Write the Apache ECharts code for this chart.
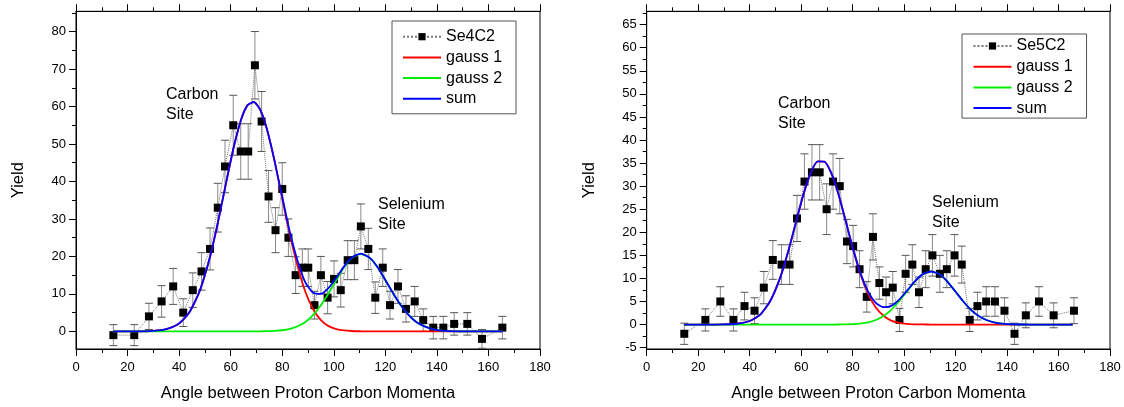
<!DOCTYPE html>
<html><head><meta charset="utf-8">
<script src="https://cdn.jsdelivr.net/npm/echarts@6/dist/echarts.min.js"></script>
<style>html,body{margin:0;padding:0;background:#fff}#c{width:1124px;height:407px}</style>
</head><body><div id="c"></div>
<script>
// ---------- data ----------
const leftX = [14.5,22.6,28.3,33.2,37.7,41.6,45.3,48.7,52,55,57.8,61,63.9,66.8,69.4,72,74.7,77.4,80,82.4,85.2,87.8,90.1,92.5,95,97.6,100.1,102.7,105.4,108,110.5,113.4,116.1,119,121.8,124.9,128,131.4,134.7,138.6,142.5,146.7,151.8,157.5,165.4];
const leftY = [-1,-1,4,8,12,5,11,16,22,33,44,55,48,48,71,56,36,27,38,25,15,17,17,7,15,9,14,11,19,19,28,22,9,17,7,12,6,8,3,1,1,2,2,-2,1];
const leftErr = [2.8,2.8,3.5,4.2,4.8,3.7,4.6,5,5.6,6.5,7,8,7.4,7.4,9,8,6.9,6,7,5,4.9,5,5,3.7,5,4.3,4.8,4.5,5.2,5.2,6,5.5,4.2,5,3.7,4.5,3.5,4,3,3,3,3,3,2.5,3];

const rightX = [14.6,22.8,28.6,33.7,38,41.9,45.5,49,52.4,55.5,58.4,61.3,64.2,67.2,69.9,72.4,75,77.8,80.2,82.7,85.5,87.9,90.4,93,95.6,98.2,100.6,103.2,105.8,108.4,111,113.9,116.6,119.6,122.4,125.5,128.5,131.9,135.3,139,142.9,147.3,152.4,158.1,166];
const rightY = [-2,1,5,1,4,3,8,14,13,13,23,31,33,33,25,31,30,18,17,12,6,19,9,7,8,1,11,13,7,12,15,11,12,15,13,1,4,5,5,3,-2,2,5,2,3];
const rightErr = [2.3,2.4,3.2,2.4,3,2.8,3.5,4.2,4.3,4.3,5,6,6,6,5.5,6,6,4.8,4.5,4,3.3,5,3.5,3.3,3.5,2.5,4,4.3,3.3,4,4.5,4,4,4.5,4,2.5,3,3.2,3.2,2.8,2.3,2.7,3.2,2.7,2.8];

const fitX = [14.5,20,25,30,35,40,44,48,52,55,58,61,64,66.5,69,71.5,74,77,80,83,86,89,92,95,98,101,104,107,110.5,114,117,120,123,126,129,132,135,138,142,148,155,165.5];
const leftG1 = [0,0,0.01,0.13,0.6,2.1,5.1,10.8,19.9,28.9,38.9,48.6,56.4,60.3,61.2,59.1,54.1,45.5,35.5,25.7,17.3,10.5,5.9,3.0,1.4,0.6,0.25,0.1,0.03,0,0,0,0,0,0,0,0,0,0,0,0,0];
const leftG2 = [0,0,0,0,0,0,0,0,0,0,0,0,0,0,0,0.02,0.05,0.13,0.3,0.67,1.37,2.5,4.4,7.0,10.2,13.7,17.1,19.6,20.7,19.6,17.1,13.7,10.2,7.0,4.4,2.5,1.4,0.7,0.2,0.02,0,0];
const leftSum = [0,0,0.01,0.13,0.6,2.1,5.1,10.8,19.9,28.9,38.9,48.6,56.4,60.3,61.2,59.1,54.15,45.6,35.8,26.4,18.7,13.0,10.3,10.0,11.6,14.3,17.35,19.7,20.73,19.6,17.1,13.7,10.2,7.0,4.4,2.5,1.4,0.7,0.2,0.02,0,0];
const rightG1 = [0,0,0,0.03,0.17,0.77,2.1,5.1,10.4,15.9,22.2,28.4,33.2,35.35,35.3,33.1,29.2,23.1,16.7,11.0,6.7,3.7,1.9,0.85,0.36,0.14,0.05,0.02,0,0,0,0,0,0,0,0,0,0,0,0,0,0];
const rightG2 = [0,0,0,0,0,0,0,0,0,0,0,0,0,0,0,0,0.01,0.03,0.08,0.21,0.47,0.98,1.86,3.2,5.0,7.1,9.2,10.8,11.5,10.8,9.2,7.1,5.0,3.2,1.86,0.98,0.47,0.21,0.06,0.01,0,0];
const rightSum = [0,0,0,0.03,0.17,0.77,2.1,5.1,10.4,15.9,22.2,28.4,33.2,35.35,35.3,33.1,29.21,23.13,16.78,11.21,7.17,4.68,3.76,4.05,5.36,7.24,9.25,10.82,11.5,10.8,9.2,7.1,5.0,3.2,1.86,0.98,0.47,0.21,0.06,0.01,0,0];

const leftYLabels = [0,10,20,30,40,50,60,70,80];
const leftYMinor = [5,15,25,35,45,55,65,75,85];
const rightYLabels = [-5,0,5,10,15,20,25,30,35,40,45,50,55,60,65];
const rightYMinor = [-2.5,2.5,7.5,12.5,17.5,22.5,27.5,32.5,37.5,42.5,47.5,52.5,57.5,62.5,67.5];
const leftNames = ['Se4C2','gauss 1','gauss 2','sum'];
const rightNames = ['Se5C2','gauss 1','gauss 2','sum'];

// ---------- helpers ----------
const FONT = "'Liberation Sans', Arial, sans-serif";
const zip = (a, b) => a.map((v, i) => [v, b[i]]);
const zip3 = (a, b, c) => a.map((v, i) => [v, b[i], c[i]]);

function xAxes(gi) {
  const base = {
    gridIndex: gi, type: 'value', min: 0, max: 180, interval: 20,
    axisLine: { show: true, onZero: false, lineStyle: { color: '#000', width: 1 } },
    axisTick: { show: true, inside: false, length: 7, lineStyle: { color: '#000' } },
    minorTick: { show: true, splitNumber: 2, length: 4, lineStyle: { color: '#000' } },
    splitLine: { show: false }, minorSplitLine: { show: false }
  };
  return [
    Object.assign({}, base, {
      position: 'bottom',
      axisLabel: { show: true, margin: 12, color: '#000', fontSize: 13, fontFamily: FONT },
      name: 'Angle between Proton Carbon Momenta', nameLocation: 'middle', nameGap: 36,
      nameTextStyle: { color: '#000', fontSize: 16.5, fontFamily: FONT }
    }),
    Object.assign({}, base, { position: 'top', axisLabel: { show: false } })
  ];
}
function yAxes(gi, min, max, labels, minor) {
  return [
    {
      gridIndex: gi, type: 'value', min: min, max: max, position: 'left',
      axisLine: { show: true, onZero: false, lineStyle: { color: '#000', width: 1 } },
      axisTick: { show: true, inside: false, length: 7, customValues: labels, lineStyle: { color: '#000' } },
      axisLabel: { show: true, margin: 10, color: '#000', fontSize: 13, fontFamily: FONT, customValues: labels },
      splitLine: { show: false },
      name: 'Yield', nameLocation: 'middle', nameGap: 49,
      nameTextStyle: { color: '#000', fontSize: 16.5, fontFamily: FONT }
    },
    {
      gridIndex: gi, type: 'value', min: min, max: max, position: 'left',
      axisLine: { show: false },
      axisTick: { show: true, inside: false, length: 4, customValues: minor, lineStyle: { color: '#000' } },
      axisLabel: { show: false },
      splitLine: { show: false }
    }
  ];
}
function errSeries(name, xi, yi, data) {
  return {
    name: name, type: 'custom', xAxisIndex: xi, yAxisIndex: yi, z: 1,
    data: data, encode: { x: 0, y: 1 },
    renderItem: function (params, api) {
      const x = api.value(0), y = api.value(1), e = api.value(2);
      const t = api.coord([x, y + e]), b = api.coord([x, y - e]);
      const hw = 4;
      return { type: 'group', children: [
        { type: 'line', shape: { x1: t[0], y1: t[1], x2: b[0], y2: b[1] }, style: { stroke: '#8a8a8a', lineWidth: 1 } },
        { type: 'line', shape: { x1: t[0] - hw, y1: t[1], x2: t[0] + hw, y2: t[1] }, style: { stroke: '#555', lineWidth: 1 } },
        { type: 'line', shape: { x1: b[0] - hw, y1: b[1], x2: b[0] + hw, y2: b[1] }, style: { stroke: '#555', lineWidth: 1 } }
      ]};
    }
  };
}
function dataSeries(name, xi, yi, data) {
  return {
    name: name, type: 'line', xAxisIndex: xi, yAxisIndex: yi, z: 3, data: data,
    symbol: 'rect', symbolSize: 8, showSymbol: true,
    itemStyle: { color: '#000' },
    lineStyle: { color: '#777', width: 1, type: 'dotted' }
  };
}
function fitSeries(name, xi, yi, data, color, z) {
  return {
    name: name, type: 'line', xAxisIndex: xi, yAxisIndex: yi, z: z, data: data,
    symbol: 'none', smooth: 0.2, itemStyle: { color: color },
    lineStyle: { color: color, width: 1.8 }
  };
}
function legend(names, left, top, padding) {
  return {
    data: names.map((n, i) => i === 0 ? { name: n } : { name: n, itemStyle: { opacity: 0 } }),
    orient: 'vertical', left: left, top: top, padding: padding,
    itemWidth: 38, itemHeight: 9, itemGap: 4.7,
    borderColor: '#555', borderWidth: 1, backgroundColor: '#fff',
    textStyle: { color: '#000', fontSize: 16, fontFamily: FONT, lineHeight: 16 },
    selectedMode: false
  };
}
function label(text, left, top) {
  return { type: 'text', left: left, top: top, z: 10,
    style: { text: text, fill: '#000', font: '16px ' + FONT, lineHeight: 20.5 } };
}

const option = {
  animation: false,
  backgroundColor: '#fff',
  grid: [
    { left: 76, right: 584, top: 11.3, bottom: 54.7, show: true, borderColor: '#000', borderWidth: 1, backgroundColor: 'transparent' },
    { left: 646.7, right: 14, top: 11.3, bottom: 54.7, show: true, borderColor: '#000', borderWidth: 1, backgroundColor: 'transparent' }
  ],
  xAxis: [].concat(xAxes(0), xAxes(1)),
  yAxis: [].concat(yAxes(0, -4.7, 85.4, leftYLabels, leftYMinor), yAxes(1, -5.3, 67.9, rightYLabels, rightYMinor)),
  legend: [
    legend(leftNames, 392, 21, [7.7, 14, 7, 10]),
    legend(rightNames, 962, 34, [4, 14, 2, 10.5])
  ],
  graphic: [
    label('Carbon\nSite', 166, 84),
    label('Selenium\nSite', 378, 194),
    label('Carbon\nSite', 778, 93),
    label('Selenium\nSite', 932, 192)
  ],
  series: [
    errSeries('Se4C2 err', 0, 0, zip3(leftX, leftY, leftErr)),
    dataSeries('Se4C2', 0, 0, zip(leftX, leftY)),
    fitSeries('gauss 1', 0, 0, zip(fitX, leftG1), '#ff0000', 4),
    fitSeries('gauss 2', 0, 0, zip(fitX, leftG2), '#00ee00', 5),
    fitSeries('sum', 0, 0, zip(fitX, leftSum), '#0000ff', 6),
    errSeries('Se5C2 err', 2, 2, zip3(rightX, rightY, rightErr)),
    dataSeries('Se5C2', 2, 2, zip(rightX, rightY)),
    fitSeries('gauss 1', 2, 2, zip(fitX, rightG1), '#ff0000', 4),
    fitSeries('gauss 2', 2, 2, zip(fitX, rightG2), '#00ee00', 5),
    fitSeries('sum', 2, 2, zip(fitX, rightSum), '#0000ff', 6)
  ]
};
const chart = echarts.init(document.getElementById('c'), null, { renderer: 'canvas' });
chart.setOption(option);
</script>
</body></html>
